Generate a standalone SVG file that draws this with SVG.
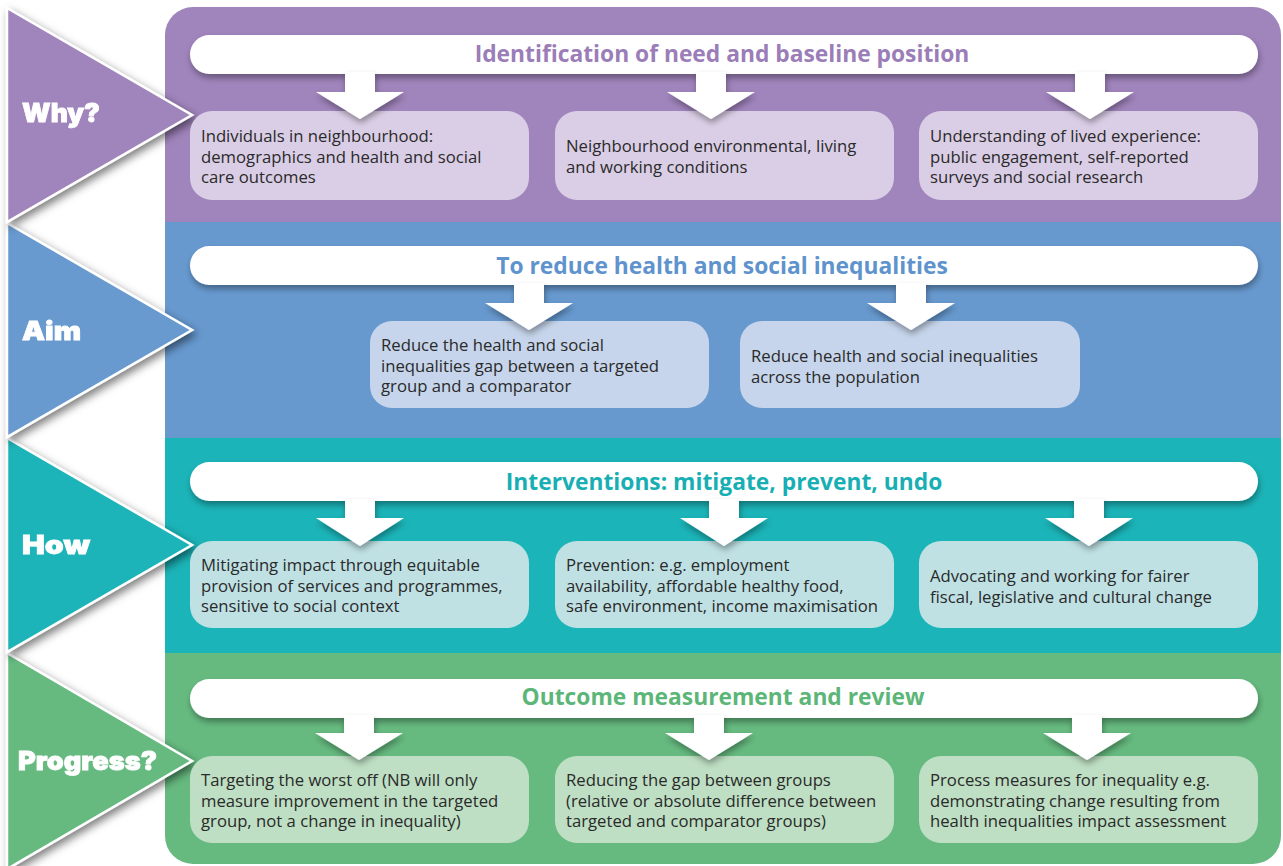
<svg xmlns="http://www.w3.org/2000/svg" width="1283" height="866" viewBox="0 0 1283 866">
<defs>
<clipPath id="panelClip"><rect x="165" y="7" width="1116" height="857" rx="28"/></clipPath>
<filter id="sh" x="-10%" y="-30%" width="120%" height="180%"><feDropShadow dx="1" dy="4" stdDeviation="3" flood-color="#000" flood-opacity="0.35"/></filter>
<filter id="chsh" x="-10%" y="-10%" width="130%" height="130%"><feDropShadow dx="3" dy="4" stdDeviation="4" flood-color="#000" flood-opacity="0.5"/></filter>
<style>
.box{stroke:none}
.bar{fill:#fff}
.t{font-family:"Open Sans","Noto Sans",sans-serif;font-size:16.7px;fill:#2a2a2a}
.ttl{font-family:"Open Sans","Noto Sans",sans-serif;font-size:22.8px;font-weight:700;text-anchor:middle}
.lab{font-family:Inter,"Liberation Sans",sans-serif;font-size:26px;font-weight:900;fill:#fff;stroke:#fff;stroke-width:0.8}
.chev{stroke:#fff;stroke-width:2.5;stroke-linejoin:miter}
.arr{fill:#fff}
</style>
</defs>
<rect width="1283" height="866" fill="#fff"/>

<g id="panel" clip-path="url(#panelClip)">
<rect x="165" y="0" width="1120" height="222" fill="#A084BC"/>
<rect x="165" y="222" width="1120" height="216" fill="#6799CF"/>
<rect x="165" y="438" width="1120" height="215" fill="#1BB4B8"/>
<rect x="165" y="653" width="1120" height="215" fill="#66BA80"/>
</g>

<g id="chevron-progress" filter="url(#chsh)">
<polygon class="chev" points="7,653 192,761 7,869" fill="#66BA80"/>
<text class="lab" x="18" y="770" textLength="139" lengthAdjust="spacingAndGlyphs">Progress?</text>
</g>
<g id="chevron-how" filter="url(#chsh)">
<polygon class="chev" points="7,438 192,545 7,652" fill="#1BB4B8"/>
<text class="lab" x="22" y="554" textLength="68" lengthAdjust="spacingAndGlyphs">How</text>
</g>
<g id="chevron-aim" filter="url(#chsh)">
<polygon class="chev" points="7,223 192,330 7,437" fill="#6799CF"/>
<text class="lab" x="22" y="340" textLength="59" lengthAdjust="spacingAndGlyphs">Aim</text>
</g>
<g id="chevron-why" filter="url(#chsh)">
<polygon class="chev" points="7,8 192,115 7,222" fill="#A084BC"/>
<text class="lab" x="22" y="122" textLength="78" lengthAdjust="spacingAndGlyphs">Why?</text>
</g>

<g id="title-why">
<rect class="bar" x="190" y="35" width="1068" height="39" rx="19.5" filter="url(#sh)"/>
<text class="ttl" x="722" y="62" fill="#9B7DB8">Identification of need and baseline position</text>
</g>
<g id="title-aim">
<rect class="bar" x="190" y="246" width="1068" height="39" rx="19.5" filter="url(#sh)"/>
<text class="ttl" x="722" y="274" fill="#5E93CE">To reduce health and social inequalities</text>
</g>
<g id="title-how">
<rect class="bar" x="190" y="462" width="1068" height="39" rx="19.5" filter="url(#sh)"/>
<text class="ttl" x="724" y="490" fill="#17AFB4">Interventions: mitigate, prevent, undo</text>
</g>
<g id="title-progress">
<rect class="bar" x="190" y="679" width="1068" height="39" rx="19.5" filter="url(#sh)"/>
<text class="ttl" x="723" y="705" fill="#5CB678">Outcome measurement and review</text>
</g>

<g id="why-1"><rect class="box" x="190" y="111" width="339" height="89" rx="22" fill="#DACEE6"/>
<text class="t" x="201" y="142">Individuals in neighbourhood:</text><text class="t" x="201" y="162.5">demographics and health and social</text><text class="t" x="201" y="183">care outcomes</text></g>
<g id="why-2"><rect class="box" x="555" y="111" width="339" height="89" rx="22" fill="#DACEE6"/>
<text class="t" x="566" y="152">Neighbourhood environmental, living</text><text class="t" x="566" y="172.5">and working conditions</text></g>
<g id="why-3"><rect class="box" x="919" y="111" width="339" height="89" rx="22" fill="#DACEE6"/>
<text class="t" x="930" y="142">Understanding of lived experience:</text><text class="t" x="930" y="162.5">public engagement, self-reported</text><text class="t" x="930" y="183">surveys and social research</text></g>

<g id="aim-1"><rect class="box" x="370" y="321" width="339" height="87" rx="22" fill="#C6D5EB"/>
<text class="t" x="381" y="351">Reduce the health and social</text><text class="t" x="381" y="371.5">inequalities gap between a targeted</text><text class="t" x="381" y="392">group and a comparator</text></g>
<g id="aim-2"><rect class="box" x="740" y="321" width="340" height="87" rx="22" fill="#C6D5EB"/>
<text class="t" x="751" y="362">Reduce health and social inequalities</text><text class="t" x="751" y="382.5">across the population</text></g>

<g id="how-1"><rect class="box" x="190" y="541" width="339" height="87" rx="22" fill="#BFE1E4"/>
<text class="t" x="201" y="571">Mitigating impact through equitable</text><text class="t" x="201" y="591.5">provision of services and programmes,</text><text class="t" x="201" y="612">sensitive to social context</text></g>
<g id="how-2"><rect class="box" x="555" y="541" width="339" height="87" rx="22" fill="#BFE1E4"/>
<text class="t" x="566" y="571">Prevention: e.g. employment</text><text class="t" x="566" y="591.5">availability, affordable healthy food,</text><text class="t" x="566" y="612">safe environment, income maximisation</text></g>
<g id="how-3"><rect class="box" x="919" y="541" width="339" height="87" rx="22" fill="#BFE1E4"/>
<text class="t" x="930" y="582">Advocating and working for fairer</text><text class="t" x="930" y="602.5">fiscal, legislative and cultural change</text></g>

<g id="progress-1"><rect class="box" x="190" y="756" width="339" height="87" rx="22" fill="#BEDFC3"/>
<text class="t" x="201" y="786">Targeting the worst off (NB will only</text><text class="t" x="201" y="806.5">measure improvement in the targeted</text><text class="t" x="201" y="827">group, not a change in inequality)</text></g>
<g id="progress-2"><rect class="box" x="555" y="756" width="339" height="87" rx="22" fill="#BEDFC3"/>
<text class="t" x="566" y="786">Reducing the gap between groups</text><text class="t" x="566" y="806.5">(relative or absolute difference between</text><text class="t" x="566" y="827">targeted and comparator groups)</text></g>
<g id="progress-3"><rect class="box" x="919" y="756" width="339" height="87" rx="22" fill="#BEDFC3"/>
<text class="t" x="930" y="786">Process measures for inequality e.g.</text><text class="t" x="930" y="806.5">demonstrating change resulting from</text><text class="t" x="930" y="827">health inequalities impact assessment</text></g>

<g id="connectors" class="arr" filter="url(#sh)">
<path d="M345 72H375V92H404L360 119L316 92H345Z"/>
<path d="M696 72H726V92H755L711 119L667 92H696Z"/>
<path d="M1075 72H1105V92H1134L1090 119L1046 92H1075Z"/>
<path d="M514 283H544V303H573L529 330L485 303H514Z"/>
<path d="M896 283H926V303H955L911 330L867 303H896Z"/>
<path d="M345 499H375V518H404L360 546L316 518H345Z"/>
<path d="M709 499H739V518H768L724 546L680 518H709Z"/>
<path d="M1074 499H1104V518H1133L1089 546L1045 518H1074Z"/>
<path d="M344 715H374V733H403L359 760L315 733H344Z"/>
<path d="M694 715H724V733H753L709 760L665 733H694Z"/>
<path d="M1072 715H1102V733H1131L1087 760L1043 733H1072Z"/>
</g>
</svg>
